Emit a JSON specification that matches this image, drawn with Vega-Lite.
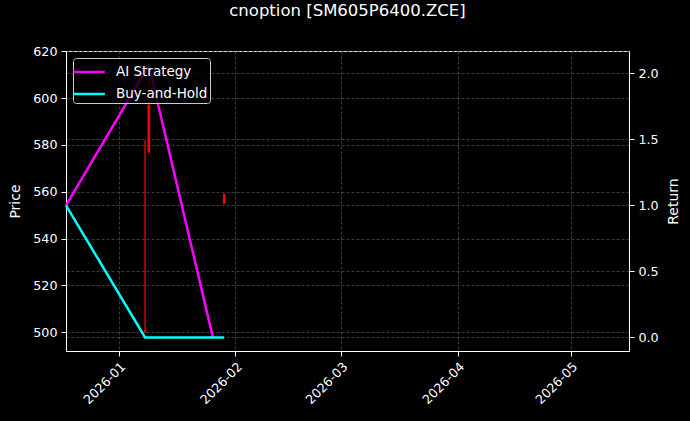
{
  "$schema": "https://vega.github.io/schema/vega-lite/v6.json",
  "width": 563,
  "height": 300,
  "autosize": {"type": "none"},
  "padding": {"left": 66, "top": 51, "right": 61, "bottom": 70},
  "background": "black",
  "title": {
    "text": "cnoption [SM605P6400.ZCE]",
    "color": "white",
    "font": "DejaVu Sans",
    "fontSize": 16.5,
    "fontWeight": "normal",
    "frame": "group",
    "offset": 26
  },
  "datasets": {
    "candles": [
      {"date": "2026-01-08", "open": 500.0, "close": 500.6, "high": 582, "low": 499.7},
      {"date": "2026-01-09", "open": 597, "close": 577, "high": 614, "low": 576.5},
      {"date": "2026-01-29", "open": 559, "close": 555, "high": 559.3, "low": 554.8}
    ],
    "returns": [
      {"date": "2025-12-18", "series": "AI Strategy", "ret": 1.0},
      {"date": "2026-01-09", "series": "AI Strategy", "ret": 2.06},
      {"date": "2026-01-26", "series": "AI Strategy", "ret": 0.0},
      {"date": "2025-12-18", "series": "Buy-and-Hold", "ret": 1.0},
      {"date": "2026-01-08", "series": "Buy-and-Hold", "ret": 0.0},
      {"date": "2026-01-29", "series": "Buy-and-Hold", "ret": 0.0}
    ]
  },
  "config": {
    "font": "DejaVu Sans",
    "view": {"stroke": "white", "strokeWidth": 1},
    "axis": {
      "domainColor": "white",
      "tickColor": "white",
      "labelColor": "white",
      "titleColor": "white",
      "labelFont": "DejaVu Sans",
      "titleFont": "DejaVu Sans",
      "labelFontSize": 12.7,
      "titleFontSize": 14,
      "titleFontWeight": "normal",
      "grid": true,
      "gridColor": "#555555",
      "gridDash": [3, 2],
      "gridWidth": 0.7,
      "tickSize": 5,
      "labelPadding": 4
    },
    "legend": {
      "orient": "none",
      "legendX": 7,
      "legendY": 7,
      "fillColor": "rgba(0,0,0,0.8)",
      "strokeColor": "#cccccc",
      "cornerRadius": 3,
      "padding": 2,
      "rowPadding": 3,
      "labelColor": "white",
      "labelFont": "DejaVu Sans",
      "labelFontSize": 13.5,
      "labelOffset": 17,
      "symbolSize": 441,
      "symbolStrokeWidth": 2.5,
      "symbolType": "M-1.3,0H1.7"
    }
  },
  "encoding": {
    "x": {
      "field": "date",
      "type": "temporal",
      "scale": {
        "type": "utc",
        "domain": [
          {"year": 2025, "month": 12, "date": 18, "utc": true},
          {"year": 2026, "month": 5, "date": 16, "hours": 12, "utc": true}
        ]
      },
      "axis": {
        "title": null,
        "grid": true,
        "labelExpr": "utcFormat(datum.value, '%Y-%m')",
        "labelAngle": -45,
        "labelAlign": "right",
        "labelBaseline": "top",
        "values": [
          {"year": 2026, "month": 1, "date": 1, "utc": true},
          {"year": 2026, "month": 2, "date": 1, "utc": true},
          {"year": 2026, "month": 3, "date": 1, "utc": true},
          {"year": 2026, "month": 4, "date": 1, "utc": true},
          {"year": 2026, "month": 5, "date": 1, "utc": true}
        ]
      }
    }
  },
  "layer": [
    {
      "data": {"name": "candles"},
      "encoding": {
        "y": {
          "type": "quantitative",
          "scale": {"domain": [491.9, 620.2], "nice": false, "zero": false},
          "axis": {"title": "Price", "grid": true, "values": [500, 520, 540, 560, 580, 600, 620], "titlePadding": 10}
        }
      },
      "layer": [
        {
          "mark": {"type": "rule", "color": "#ff0000", "strokeWidth": 1.3},
          "encoding": {
            "y": {"field": "low", "type": "quantitative", "title": "Price"},
            "y2": {"field": "high"}
          }
        },
        {
          "mark": {"type": "rule", "color": "#ff0000", "strokeWidth": 2.6},
          "encoding": {
            "y": {"field": "open", "type": "quantitative", "title": "Price"},
            "y2": {"field": "close"}
          }
        }
      ]
    },
    {
      "data": {"name": "returns"},
      "mark": {"type": "line", "strokeWidth": 2.5},
      "encoding": {
        "y": {
          "field": "ret",
          "type": "quantitative",
          "scale": {"domain": [-0.103, 2.168], "nice": false, "zero": false},
          "axis": {"title": "Return", "orient": "right", "grid": true, "titleAngle": 270, "values": [0, 0.5, 1, 1.5, 2], "format": ".1f", "titlePadding": 22}
        },
        "color": {
          "field": "series",
          "type": "nominal",
          "scale": {"domain": ["AI Strategy", "Buy-and-Hold"], "range": ["#ff00ff", "#00ffff"]},
          "legend": {"title": null}
        }
      }
    }
  ],
  "resolve": {"scale": {"y": "independent"}}
}
